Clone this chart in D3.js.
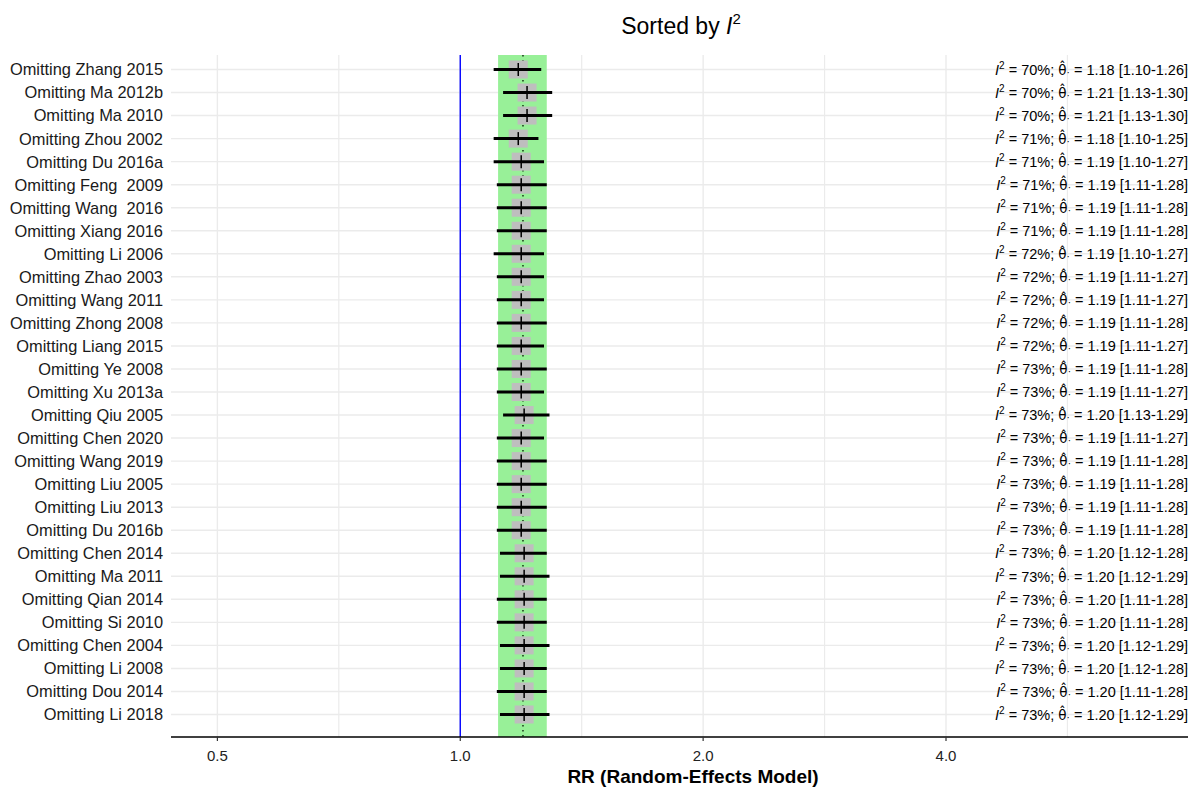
<!DOCTYPE html>
<html>
<head>
<meta charset="utf-8">
<script src="https://cdn.jsdelivr.net/npm/d3@7"></script>
<style>
  body { margin: 0; background: #fff; }
  svg { font-family: "Liberation Sans", Arial, sans-serif; }
</style>
</head>
<body>
<svg id="chart"></svg>
<script>
// leave-one-out forest plot, sorted by I^2

var studies = ["Omitting Zhang 2015", "Omitting Ma 2012b", "Omitting Ma 2010", "Omitting Zhou 2002",
  "Omitting Du 2016a", "Omitting Feng  2009", "Omitting Wang  2016", "Omitting Xiang 2016",
  "Omitting Li 2006", "Omitting Zhao 2003", "Omitting Wang 2011", "Omitting Zhong 2008",
  "Omitting Liang 2015", "Omitting Ye 2008", "Omitting Xu 2013a", "Omitting Qiu 2005",
  "Omitting Chen 2020", "Omitting Wang 2019", "Omitting Liu 2005", "Omitting Liu 2013",
  "Omitting Du 2016b", "Omitting Chen 2014", "Omitting Ma 2011", "Omitting Qian 2014",
  "Omitting Si 2010", "Omitting Chen 2004", "Omitting Li 2008", "Omitting Dou 2014", "Omitting Li 2018"]

var i2 = [70, 70, 70, 71, 71, 71, 71, 71, 72, 72, 72, 72, 72, 73, 73, 73, 73, 73, 73, 73, 73, 73, 73, 73, 73, 73, 73, 73, 73]

var est = [1.18, 1.21, 1.21, 1.18, 1.19, 1.19, 1.19, 1.19, 1.19, 1.19, 1.19, 1.19, 1.19, 1.19, 1.19, 1.20,
  1.19, 1.19, 1.19, 1.19, 1.19, 1.20, 1.20, 1.20, 1.20, 1.20, 1.20, 1.20, 1.20]

var lower = [1.10, 1.13, 1.13, 1.10, 1.10, 1.11, 1.11, 1.11, 1.10, 1.11, 1.11, 1.11, 1.11, 1.11, 1.11, 1.13,
  1.11, 1.11, 1.11, 1.11, 1.11, 1.12, 1.12, 1.11, 1.11, 1.12, 1.12, 1.11, 1.12]

var upper = [1.26, 1.30, 1.30, 1.25, 1.27, 1.28, 1.28, 1.28, 1.27, 1.27, 1.27, 1.28, 1.27, 1.28, 1.27, 1.29,
  1.27, 1.28, 1.28, 1.28, 1.28, 1.28, 1.29, 1.28, 1.28, 1.29, 1.28, 1.28, 1.29]

var pooledEst = 1.196
var pooledCI = [1.114, 1.28]
var xTicks = [0.5, 1, 2, 4]
var tickLabels = ["0.5", "1.0", "2.0", "4.0"]

var data = studies.map(function(s, i) {
  return { study: s, i2: i2[i], est: est[i], lower: lower[i], upper: upper[i] }
})

var width = 1196, height = 792
var panel = { left: 171, right: 1188, top: 55, bottom: 737 }

var svg = d3.select('#chart')
  .attr('width', width)
  .attr('height', height)

var x = d3.scaleLog()
  .domain([0.438, 7.98])
  .range([panel.left, panel.right])

var y = d3.scalePoint()
  .domain(studies)
  .range([69.5, 714.5])

var minorTicks = xTicks.map(t => t * Math.SQRT2)

// grid
var grid = svg.append('g')
grid.selectAll('.minor')
  .data(minorTicks)
  .join('line')
  .attr('x1', d => x(d)).attr('x2', d => x(d))
  .attr('y1', panel.top).attr('y2', panel.bottom)
  .attr('stroke', '#ebebeb').attr('stroke-width', 1.2)

grid.selectAll('.major')
  .data(xTicks)
  .join('line')
  .attr('x1', d => x(d)).attr('x2', d => x(d))
  .attr('y1', panel.top).attr('y2', panel.bottom)
  .attr('stroke', '#ebebeb').attr('stroke-width', 1.4)

grid.selectAll('.row')
  .data(studies)
  .join('line')
  .attr('x1', panel.left).attr('x2', panel.right)
  .attr('y1', d => y(d)).attr('y2', d => y(d))
  .attr('stroke', '#ebebeb').attr('stroke-width', 1.4)

// pooled CI band
svg.append('rect')
  .attr('x', x(pooledCI[0]))
  .attr('width', x(pooledCI[1]) - x(pooledCI[0]))
  .attr('y', panel.top)
  .attr('height', panel.bottom - panel.top)
  .attr('fill', '#98f098')

// null line
svg.append('line')
  .attr('x1', x(1)).attr('x2', x(1))
  .attr('y1', panel.top).attr('y2', panel.bottom)
  .attr('stroke', '#0000ff').attr('stroke-width', 1.4)

// pooled estimate, dotted
svg.append('line')
  .attr('x1', x(pooledEst)).attr('x2', x(pooledEst))
  .attr('y1', panel.top).attr('y2', panel.bottom)
  .attr('stroke', '#1f3f1f').attr('stroke-width', 1.6)
  .attr('stroke-dasharray', '1.6,3.4')

var rows = svg.append('g').selectAll('g')
  .data(data)
  .join('g')
  .attr('transform', d => 'translate(0,' + y(d.study) + ')')

rows.append('rect')
  .attr('x', d => x(d.est) - 9.5)
  .attr('y', -9)
  .attr('width', 19)
  .attr('height', 18)
  .attr('fill', '#bebebe')

rows.append('line')
  .attr('x1', d => x(d.lower)).attr('x2', d => x(d.upper))
  .attr('stroke', '#000').attr('stroke-width', 3)

rows.append('line')
  .attr('x1', d => x(d.est)).attr('x2', d => x(d.est))
  .attr('y1', -6.5).attr('y2', 6.5)
  .attr('stroke', '#000').attr('stroke-width', 1.5)

// study labels
rows.append('text')
  .attr('x', 163)
  .attr('dy', '0.36em')
  .attr('text-anchor', 'end')
  .style('font-size', '16.4px')
  .attr('fill', '#1a1a1a')
  .style('white-space', 'pre')
  .text(d => d.study)

// right-hand annotation
var note = rows.append('text')
  .attr('x', panel.right)
  .attr('dy', '0.36em')
  .attr('text-anchor', 'end')
  .style('font-size', '14.5px')
  .attr('fill', '#000')

note.append('tspan').style('font-style', 'italic').text('I')
note.append('tspan').attr('dy', -6).style('font-size', '10px').text('2')
note.append('tspan').attr('dy', 6).text(d => ' = ' + d.i2 + '%; ')
note.append('tspan').style('font-family', '"DejaVu Sans"').style('font-size', '13.5px').text('\u03b8\u0302')
note.append('tspan').attr('dy', 1).style('font-size', '10px').text('\u00b7')
note.append('tspan').attr('dy', -1)
  .text(d => ' = ' + d.est.toFixed(2) + ' [' + d.lower.toFixed(2) + '-' + d.upper.toFixed(2) + ']')

// x axis
svg.append('line')
  .attr('x1', panel.left).attr('x2', panel.right)
  .attr('y1', panel.bottom).attr('y2', panel.bottom)
  .attr('stroke', '#000').attr('stroke-width', 1.5)

var ticks = svg.append('g').selectAll('g')
  .data(xTicks)
  .join('g')
  .attr('transform', d => 'translate(' + x(d) + ',' + panel.bottom + ')')

ticks.append('line')
  .attr('y1', 0).attr('y2', 4)
  .attr('stroke', '#333').attr('stroke-width', 1.2)

ticks.append('text')
  .attr('y', 24)
  .attr('text-anchor', 'middle')
  .style('font-size', '15px')
  .attr('fill', '#222')
  .text((d, i) => tickLabels[i])

svg.append('text')
  .attr('x', 693)
  .attr('y', 783)
  .attr('text-anchor', 'middle')
  .style('font-size', '19px')
  .style('font-weight', 'bold')
  .attr('fill', '#000')
  .text('RR (Random-Effects Model)')

// title
var title = svg.append('text')
  .attr('x', 681)
  .attr('y', 34)
  .attr('text-anchor', 'middle')
  .style('font-size', '23px')
  .attr('fill', '#000')
title.append('tspan').text('Sorted by ')
title.append('tspan').style('font-style', 'italic').text('I')
title.append('tspan').attr('dy', -10).style('font-size', '15px').text('2')
</script>
</body>
</html>
